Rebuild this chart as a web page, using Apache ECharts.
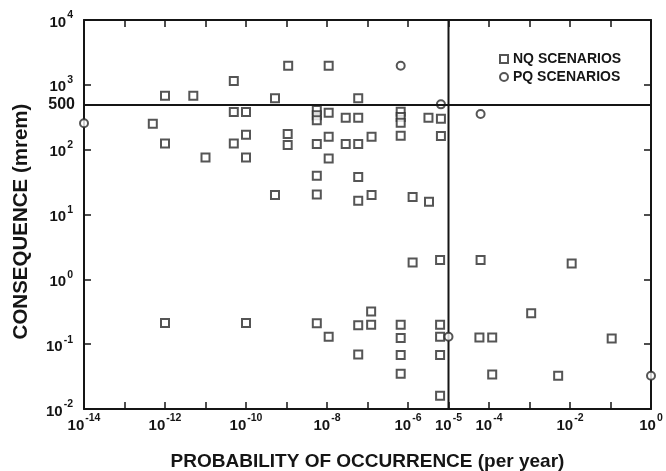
<!DOCTYPE html>
<html><head><meta charset="utf-8">
<script src="https://cdn.jsdelivr.net/npm/echarts@6/dist/echarts.min.js"></script>
<style>html,body{margin:0;padding:0;background:#fff}#c{width:666px;height:471px}</style>
</head><body><div id="c"></div>
<script>
// NQ scenarios (probability per year, consequence mrem)
const nqX = [5e-13, 1e-12, 5e-12, 5e-11, 5e-11, 1e-10, 1e-12, 1e-11, 5e-11, 1e-10, 1e-10,
  1.1e-9, 1.1e-8, 5.2e-10, 5.9e-8, 5.6e-9, 5.6e-9, 5.6e-9, 1.1e-8, 2.9e-8, 5.9e-8,
  6.6e-7, 6.6e-7, 6.6e-7, 3.2e-6, 6.5e-6, 1.07e-9, 1.07e-9, 5.6e-9, 1.1e-8, 2.9e-8, 5.9e-8,
  1.26e-7, 6.6e-7, 6.5e-6, 1.1e-8, 5.6e-9, 5.9e-8, 5.2e-10, 5.6e-9, 5.9e-8, 1.26e-7,
  1.3e-6, 3.3e-6, 1e-12, 1e-10, 1.3e-6, 6.2e-6, 5.6e-9, 1.1e-8, 5.9e-8, 1.23e-7, 1.23e-7,
  6.6e-7, 6.6e-7, 6.6e-7, 6.6e-7, 5.9e-8, 6.2e-6, 6.2e-6, 6.2e-6, 6.2e-6,
  6.2e-5, 1.1e-2, 1.1e-3, 5.8e-5, 1.2e-4, 0.107, 1.2e-4, 5.1e-3];
const nqY = [250, 680, 680, 1150, 380, 380, 125, 76, 125, 170, 76,
  1970, 1970, 620, 620, 410, 340, 285, 370, 310, 310,
  385, 320, 260, 310, 300, 175, 118, 122, 158, 122, 122,
  158, 164, 162, 73, 39.5, 38, 20, 20.4, 16.3, 20,
  18.7, 15.7, 0.213, 0.213, 1.82, 1.98, 0.21, 0.13, 0.196, 0.32, 0.2,
  0.2, 0.125, 0.068, 0.035, 0.069, 0.2, 0.13, 0.068, 0.016,
  1.98, 1.76, 0.3, 0.127, 0.127, 0.122, 0.034, 0.0325];
// PQ scenarios
const pqX = [1e-14, 6.6e-7, 6.5e-6, 6.2e-5, 1e-5, 1];
const pqY = [255, 1970, 500, 354, 0.13, 0.0325];
// axis labels (exponents of 10)
const xLabelExps = [-14, -12, -10, -8, -6, -5, -4, -2, 0];
const yLabelExps = [-2, -1, 0, 1, 2, 3, 4];
const xRange = [1e-14, 1];
const yRange = [0.01, 10000];
const limitY = 500;   // horizontal reference line
const limitX = 1e-5;  // vertical reference line

const seriesNames = ['NQ SCENARIOS', 'PQ SCENARIOS'];
const ink = '#151515';
const FONT = 'Liberation Sans';

function zip(a, b) { return a.map((v, i) => [v, b[i]]); }
function expOf(v) { return Math.round(Math.log10(v)); }
const rich = {
  b: { fontSize: 15, fontWeight: 'bold', fontFamily: FONT, color: ink, verticalAlign: 'bottom', lineHeight: 20 },
  s: { fontSize: 10.5, fontWeight: 'bold', fontFamily: FONT, color: ink, verticalAlign: 'top', lineHeight: 20, padding: [0, 0, 0, 1] }
};

const chart = echarts.init(document.getElementById('c'), null, { renderer: 'canvas' });
const axisCommon = {
  type: 'log', logBase: 10, interval: 1,
  axisLine: { show: true, onZero: false, lineStyle: { color: ink, width: 2 } },
  axisTick: { show: true, inside: true, length: 7, lineStyle: { color: ink, width: 1.5 } },
  splitLine: { show: false }, minorTick: { show: false }
};
chart.setOption({
  animation: false,
  backgroundColor: '#fff',
  grid: { left: 84, right: 15, top: 20, bottom: 62, containLabel: false, outerBoundsMode: 'none' },
  legend: {
    orient: 'vertical', left: 494, top: 47, itemWidth: 8, itemHeight: 8, itemGap: 4,
    data: seriesNames,
    textStyle: { fontFamily: FONT, fontWeight: 'bold', fontSize: 14, color: ink, padding: [0, 0, 0, 0] }
  },
  xAxis: [
    Object.assign({}, axisCommon, {
      min: xRange[0], max: xRange[1], position: 'bottom',
      name: 'PROBABILITY OF OCCURRENCE (per year)', nameLocation: 'middle', nameGap: 43,
      nameTextStyle: { fontFamily: FONT, fontWeight: 'bold', fontSize: 19, color: ink },
      axisLabel: {
        interval: 0, margin: 4, showMinLabel: true, showMaxLabel: true,
        formatter: v => xLabelExps.includes(expOf(v)) ? '{b|10}{s|' + expOf(v) + '}' : '',
        rich: rich
      }
    }),
    Object.assign({}, axisCommon, {
      min: xRange[0], max: xRange[1], position: 'top', axisLabel: { show: false }
    })
  ],
  yAxis: [
    Object.assign({}, axisCommon, {
      min: yRange[0], max: yRange[1], position: 'left',
      name: 'CONSEQUENCE (mrem)', nameLocation: 'middle', nameGap: 52,
      nameTextStyle: { fontFamily: FONT, fontWeight: 'bold', fontSize: 20.5, color: ink, padding: [0, 14, 0, 0] },
      axisLabel: {
        interval: 0, margin: 11, showMinLabel: true, showMaxLabel: true,
        formatter: v => yLabelExps.includes(expOf(v)) ? '{b|10}{s|' + expOf(v) + '}' : '',
        rich: rich
      }
    }),
    Object.assign({}, axisCommon, {
      min: yRange[0], max: yRange[1], position: 'right', axisLabel: { show: false }
    })
  ],
  series: [
    {
      name: seriesNames[0], type: 'scatter', symbol: 'emptyRect', symbolSize: 8,
      itemStyle: { color: '#2a2a2a', borderWidth: 1.2 },
      data: zip(nqX, nqY),
      markLine: {
        silent: true, symbol: 'none', animation: false,
        lineStyle: { color: ink, width: 2, type: 'solid' },
        data: [
          { yAxis: limitY, label: { show: true, position: 'start', formatter: '500', distance: 9,
            fontFamily: FONT, fontWeight: 'bold', fontSize: 16, color: ink } }
        ]
      }
    },
    {
      name: seriesNames[1], type: 'scatter', symbol: 'emptyCircle', symbolSize: 8,
      itemStyle: { color: '#2a2a2a', borderWidth: 1.2 },
      data: zip(pqX, pqY), z: 3
    },
    {
      name: 'limit', type: 'line', silent: true, symbol: 'none', z: 1,
      lineStyle: { color: ink, width: 2 },
      data: [[limitX, yRange[0]], [limitX, yRange[1]]]
    }
  ]
});
</script></body></html>
